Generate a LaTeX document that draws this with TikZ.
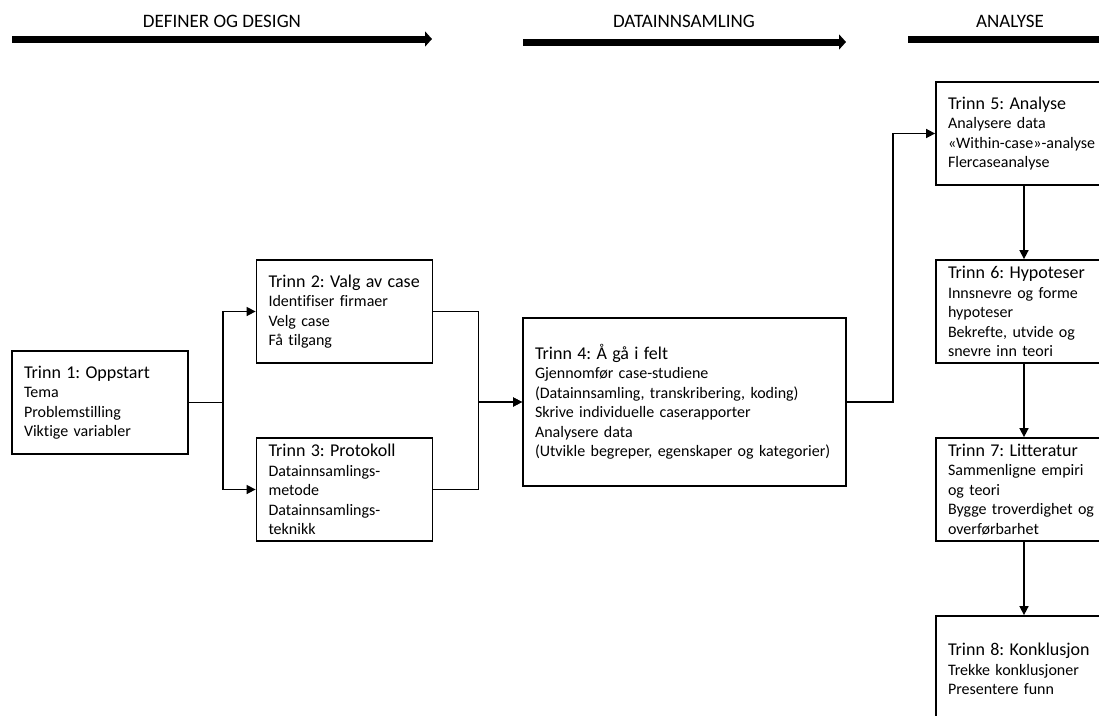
\documentclass[tikz,border=0pt]{standalone}
\usepackage{fontspec}
\setmainfont{Carlito}[Ligatures=NoCommon]
\usetikzlibrary{arrows.meta}

\tikzset{
  trinn/.style={draw, rectangle, line width=1.8pt, text width=152pt, minimum height=103pt,
    inner xsep=12pt, inner ysep=0pt, align=left, font=\fontsize{16}{19.5}\selectfont\frenchspacing},
  pil/.style={-{Triangle[length=9pt,width=9pt]}, line width=1.6pt},
  fase/.style={line width=7pt, -{Triangle[length=7pt,width=15pt]}},
  fasetekst/.style={font=\fontsize{19}{22}\selectfont}
}
\newcommand{\tittel}[1]{{\fontsize{18}{19.5}\selectfont\mbox{#1}}}

\begin{document}
\begin{tikzpicture}[x=1pt,y=-1pt]
\useasboundingbox (0,0) rectangle (1099,715);

% faser
\coordinate (f1a) at (12,39);
\coordinate (f1b) at (432,39);
\coordinate (f2a) at (523,42);
\coordinate (f2b) at (846,42);
\coordinate (f3a) at (908,39);
\coordinate (f3b) at (1130,39);

\draw[fase] (f1a) -- (f1b);
\draw[fase] (f2a) -- (f2b);
\draw[line width=7pt] (f3a) -- (f3b);

\node[fasetekst] (definer) at (222,21) {DEFINER OG DESIGN};
\node[fasetekst] (samling) at (684,21) {DATAINNSAMLING};
\node[fasetekst] (analyse) at (1010,21) {ANALYSE};

% trinn
\node[trinn] (t1) at (100,402.5) {\tittel{Trinn 1: Oppstart}\\Tema\\Problemstilling\\Viktige variabler};
\node[trinn] (t2) at (344.5,311.5) {\tittel{Trinn 2: Valg av case}\\Identifiser firmaer\\Velg case\\Få tilgang};
\node[trinn] (t3) at (344.5,489.5) {\tittel{Trinn 3: Protokoll}\\Datainnsamlings-\\metode\\Datainnsamlings-\\teknikk};
\node[trinn, text width=299pt, minimum height=168pt] (t4) at (684.5,402) {\tittel{Trinn 4: Å gå i felt}\\Gjennomfør case-studiene\\(Datainnsamling, transkribering, koding)\\Skrive individuelle caserapporter\\Analysere data\\(Utvikle begreper, egenskaper og kategorier)};
\node[trinn] (t5) at (1024,133.5) {\tittel{Trinn 5: Analyse}\\Analysere data\\«Within-case»-analyse\\Flercaseanalyse};
\node[trinn] (t6) at (1024,311.5) {\tittel{Trinn 6: Hypoteser}\\Innsnevre og forme\\hypoteser\\Bekrefte, utvide og\\snevre inn teori};
\node[trinn] (t7) at (1024,489.5) {\tittel{Trinn 7: Litteratur}\\Sammenligne empiri\\og teori\\Bygge troverdighet og\\overførbarhet};
\node[trinn, minimum height=106pt] (t8) at (1024,669) {\tittel{Trinn 8: Konklusjon}\\Trekke konklusjoner\\Presentere funn};

% piler
\draw[pil] (t1.east) -- ++(34,0) |- (t2.west);
\draw[pil] (t1.east) -- ++(34,0) |- (t3.west);
\draw[pil] (t2.east) -- ++(45,0) |- (t4.west);
\draw[pil] (t3.east) -- ++(45,0) |- (t4.west);
\draw[pil] (t4.east) -- ++(46,0) |- (t5.west);

\draw[pil] (t5) -- (t6);
\draw[pil] (t6) -- (t7);
\draw[pil] (t7) -- (t8);

\end{tikzpicture}
\end{document}
